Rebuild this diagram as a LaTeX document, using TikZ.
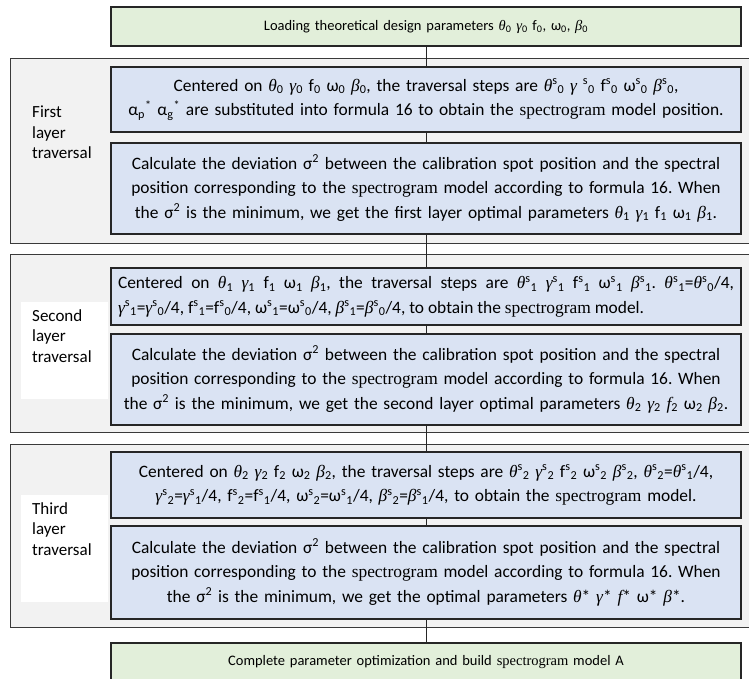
\documentclass[tikz,border=0pt]{standalone}
\usepackage{fontspec}
\setmainfont{Carlito}
\newfontfamily\tnr{Liberation Serif}
\newcommand\gk[1]{{\tnr\itshape #1}}
\newcommand\sub[1]{\textsubscript{#1}}
\newcommand\sps[1]{\textsuperscript{s}\textsubscript{#1}}
\definecolor{gfill}{HTML}{E2EFDA}
\definecolor{bfill}{HTML}{DAE3F3}
\definecolor{pfill}{HTML}{F2F2F2}
\definecolor{bord}{HTML}{262626}
\definecolor{pbord}{HTML}{3A3A3A}
\tikzset{
 boxbase/.style={draw=bord, line width=1.3pt, minimum width=630pt, text width=614pt, inner xsep=8pt, inner ysep=2pt, font=\fontsize{17.4}{24.5}\selectfont\frenchspacing},
 greenbox/.style={boxbase, fill=gfill, align=center, font=\fontsize{14.5}{18}\selectfont\frenchspacing},
 bluebox/.style={boxbase, fill=bfill, align=center},
 justbox/.style={boxbase, fill=bfill, align=justify, text width=616pt, inner xsep=7pt},
 panelbox/.style={draw=pbord, line width=1pt, fill=pfill, anchor=north west, minimum width=760pt, inner sep=0pt},
 whitepad/.style={fill=white, anchor=north west, minimum width=87pt, minimum height=97pt, inner sep=0pt},
 lbl/.style={anchor=north west, align=left, inner sep=0pt, font=\fontsize{17}{20.5}\selectfont},
 conn/.style={draw=bord, line width=1pt}
}
\begin{document}
\begin{tikzpicture}[x=1pt, y=-1pt]
\clip (0,0) rectangle (749,679);
\fill[white] (0,0) rectangle (749,679);
% panels
\node[panelbox, minimum height=185pt] (p1) at (10,58) {};
\node[panelbox, minimum height=178pt] (p2) at (10,254) {};
\node[panelbox, minimum height=183pt] (p3) at (10,444) {};
\node[whitepad] (w2) at (21,302) {};
\node[whitepad, minimum height=107pt] (w3) at (21,495) {};
\node[lbl] (l1) at (32,106) {First\\layer\\traversal};
\node[lbl] (l2) at (32,309) {Second\\layer\\traversal};
\node[lbl] (l3) at (32,502) {Third\\layer\\traversal};
% boxes
\node[greenbox, minimum height=39pt] (top) at (426,26.5) {Loading theoretical design parameters \gk{θ}\sub0 \gk{γ}\sub0 f\sub0, ω\sub0, \gk{β}\sub0};
\node[bluebox, minimum height=65pt] (b1) at (426,99.5) {Centered on \gk{θ}\sub0 \gk{γ}\sub0 f\sub0 ω\sub0 \gk{β}\sub0, the traversal steps are \gk{θ}\sps0 \gk{γ} \sps0 f\sps0 ω\sps0 \gk{β}\sps0,\\ α\textsubscript{p}\textsuperscript{*} α\textsubscript{g}\textsuperscript{*} are substituted into formula 16 to obtain the {\tnr spectrogram} model position.};
\node[bluebox, minimum height=91pt] (b2) at (426,188.5) {Calculate the deviation σ\textsuperscript{2} between the calibration spot position and the spectral\\ position corresponding to the {\tnr spectrogram} model according to formula 16. When\\ the σ\textsuperscript{2} is the minimum, we get the first layer optimal parameters \gk{θ}\sub1 \gk{γ}\sub1 f\sub1 ω\sub1 \gk{β}\sub1.};
\node[justbox, minimum height=57pt] (b3) at (426,296.5) {Centered on \gk{θ}\sub1 \gk{γ}\sub1 f\sub1 ω\sub1 \gk{β}\sub1, the traversal steps are \gk{θ}\sps1 \gk{γ}\sps1 f\sps1 ω\sps1 \gk{β}\sps1. \gk{θ}\sps1=\gk{θ}\sps0/4,\linebreak \gk{γ}\sps1=\gk{γ}\sps0/4, f\sps1=f\sps0/4, ω\sps1=ω\sps0/4, \gk{β}\sps1=\gk{β}\sps0/4, to obtain the {\tnr spectrogram} model.};
\node[bluebox, minimum height=91pt] (b4) at (426,379.5) {Calculate the deviation σ\textsuperscript{2} between the calibration spot position and the spectral\\ position corresponding to the {\tnr spectrogram} model according to formula 16. When\\ the σ\textsuperscript{2} is the minimum, we get the second layer optimal parameters \gk{θ}\sub2 \gk{γ}\sub2 \gk{f}\sub2 ω\sub2 \gk{β}\sub2.};
\node[bluebox, minimum height=66pt] (b5) at (426,485) {Centered on \gk{θ}\sub2 \gk{γ}\sub2 f\sub2 ω\sub2 \gk{β}\sub2, the traversal steps are \gk{θ}\sps2 \gk{γ}\sps2 f\sps2 ω\sps2 \gk{β}\sps2, \gk{θ}\sps2=\gk{θ}\sps1/4,\\ \gk{γ}\sps2=\gk{γ}\sps1/4, f\sps2=f\sps1/4, ω\sps2=ω\sps1/4, \gk{β}\sps2=\gk{β}\sps1/4, to obtain the {\tnr spectrogram} model.};
\node[bluebox, minimum height=93pt] (b6) at (426,572.5) {Calculate the deviation σ\textsuperscript{2} between the calibration spot position and the spectral\\ position corresponding to the {\tnr spectrogram} model according to formula 16. When\\ the σ\textsuperscript{2} is the minimum, we get the optimal parameters \gk{θ}* \gk{γ}* \gk{f}* ω* \gk{β}*.};
\node[greenbox, minimum height=39pt] (bot) at (426,662.5) {Complete parameter optimization and build {\tnr spectrogram} model A};
% connectors
\draw[conn] (top) -- (b1);
\draw[conn] (b1) -- (b2);
\draw[conn] (b2) -- (b3);
\draw[conn] (b3) -- (b4);
\draw[conn] (b4) -- (b5);
\draw[conn] (b5) -- (b6);
\draw[conn] (b6) -- (bot);
\end{tikzpicture}
\end{document}
